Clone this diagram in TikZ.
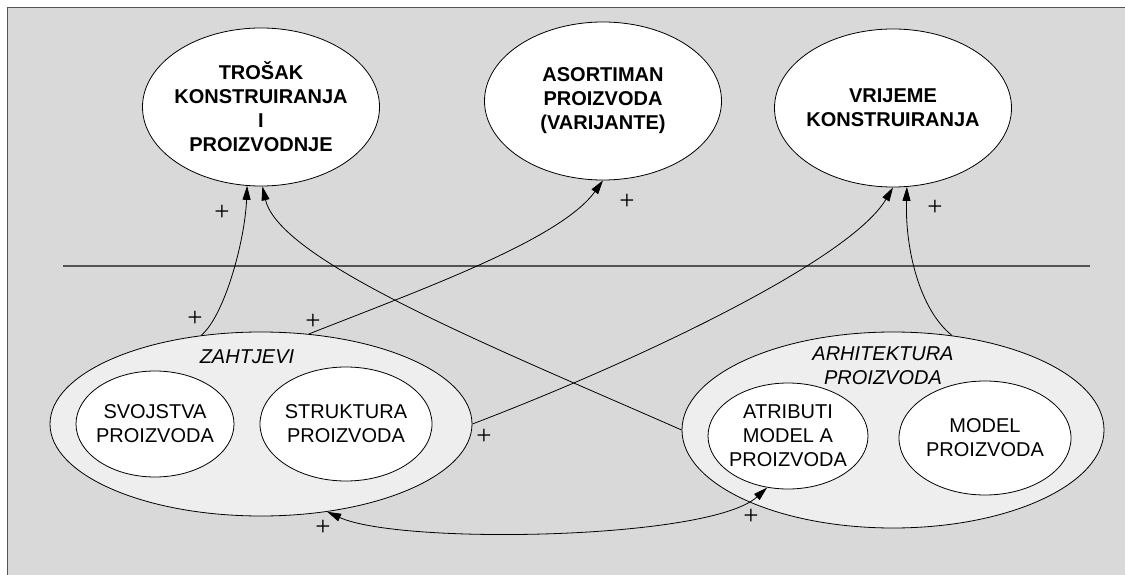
\documentclass[tikz,border=0pt]{standalone}
\usepackage{fontspec}
\setmainfont{Liberation Sans}
\newfontfamily\plusfont{Liberation Serif}
\usetikzlibrary{shapes.geometric,arrows.meta}
\definecolor{bg}{gray}{0.85}
\definecolor{grp}{gray}{0.933}
\definecolor{frameline}{gray}{0.33}
\begin{document}
\begin{tikzpicture}[x=1pt,y=-1pt,
  ell/.style={ellipse,draw,line width=0.8pt,inner sep=0pt},
  topell/.style={ell,fill=white,minimum width=237pt,minimum height=158pt},
  grpell/.style={ell,fill=grp,minimum width=422pt},
  inell/.style={ell,fill=white},
  txt/.style={align=center,inner sep=0pt,font=\fontsize{20}{24}\selectfont},
  btxt/.style={align=center,inner sep=0pt,font=\fontsize{20}{24}\selectfont\bfseries},
  itxt/.style={align=center,inner sep=0pt,font=\fontsize{20}{24}\selectfont\itshape},
  pl/.style={inner sep=0pt,font=\plusfont\fontsize{27}{27}\selectfont},
  conn/.style={draw,line width=0.8pt},
  >={Triangle[length=14pt,width=8pt]}]
\path[use as bounding box] (0,0) rectangle (1125,575);
\fill[white] (0,0) rectangle (1125,575);
\fill[bg] (7,8) rectangle (1125,575);
\draw[frameline,line width=1pt] (7,575) -- (7,8) -- (1125,8);
\coordinate (hl) at (63,266);
\coordinate (hr) at (1090,266);
\draw[frameline,line width=1.2pt] (hl) -- (hr);

% top ellipses
\node[topell] (tro) at (261,107) {};
\node[topell] (aso) at (603,101) {};
\node[topell] (vri) at (893,108) {};
\node[btxt] (trot) at (tro.center) {TROŠAK\\KONSTRUIRANJA\\I\\PROIZVODNJE};
\node[btxt] (asot) at (aso.center) {ASORTIMAN\\PROIZVODA\\(VARIJANTE)};
\node[btxt] (vrit) at (vri.center) {VRIJEME\\KONSTRUIRANJA};

% group ellipses
\node[grpell,minimum height=184pt] (zah) at (261,424) {};
\node[grpell,minimum height=196pt] (arh) at (893,430) {};
\node[itxt] (zaht) at (247,357) {ZAHTJEVI};
\node[itxt] (arht) at (883,366) {ARHITEKTURA\\PROIZVODA};

% inner ellipses
\node[inell,minimum width=158pt,minimum height=106pt] (svo) at (155,424) {};
\node[inell,minimum width=172pt,minimum height=114pt] (str) at (346,424) {};
\node[inell,minimum width=160pt,minimum height=106pt] (atr) at (788,436) {};
\node[inell,minimum width=172pt,minimum height=114pt] (mod) at (985,438) {};
\node[txt] (svot) at (svo.center) {SVOJSTVA\\PROIZVODA};
\node[txt] (strt) at (str.center) {STRUKTURA\\PROIZVODA};
\node[txt] (atrt) at (atr.center) {ATRIBUTI\\MODEL A\\PROIZVODA};
\node[txt] (modt) at (mod.center) {MODEL\\PROIZVODA};

% connectors
\draw[conn,->] (zah.124) .. controls (225,315) and (245,240) .. (tro.260);
\draw[conn,->] (arh.west) .. controls (500,350) and (280,262) .. (tro.271);
\draw[conn,->] (zah.62) .. controls (420,290) and (560,240) .. (aso.270);
\draw[conn,->] (zah.east) .. controls (640,360) and (850,260) .. (vri.270);
\draw[conn,->] (arh.58) .. controls (920,310) and (905,250) .. (vri.280);
\draw[conn,<->] (zah.307) .. controls (400,545) and (710,540) .. (atr.248);

% plus signs
\node[pl] (p1) at (195,319) {+};
\node[pl] (p2) at (313,322) {+};
\node[pl] (p3) at (484,437) {+};
\node[pl] (p4) at (323,528) {+};
\node[pl] (p5) at (751,517) {+};
\node[pl] (p6) at (222,213) {+};
\node[pl] (p7) at (627,202) {+};
\node[pl] (p8) at (935,208) {+};
\end{tikzpicture}
\end{document}
